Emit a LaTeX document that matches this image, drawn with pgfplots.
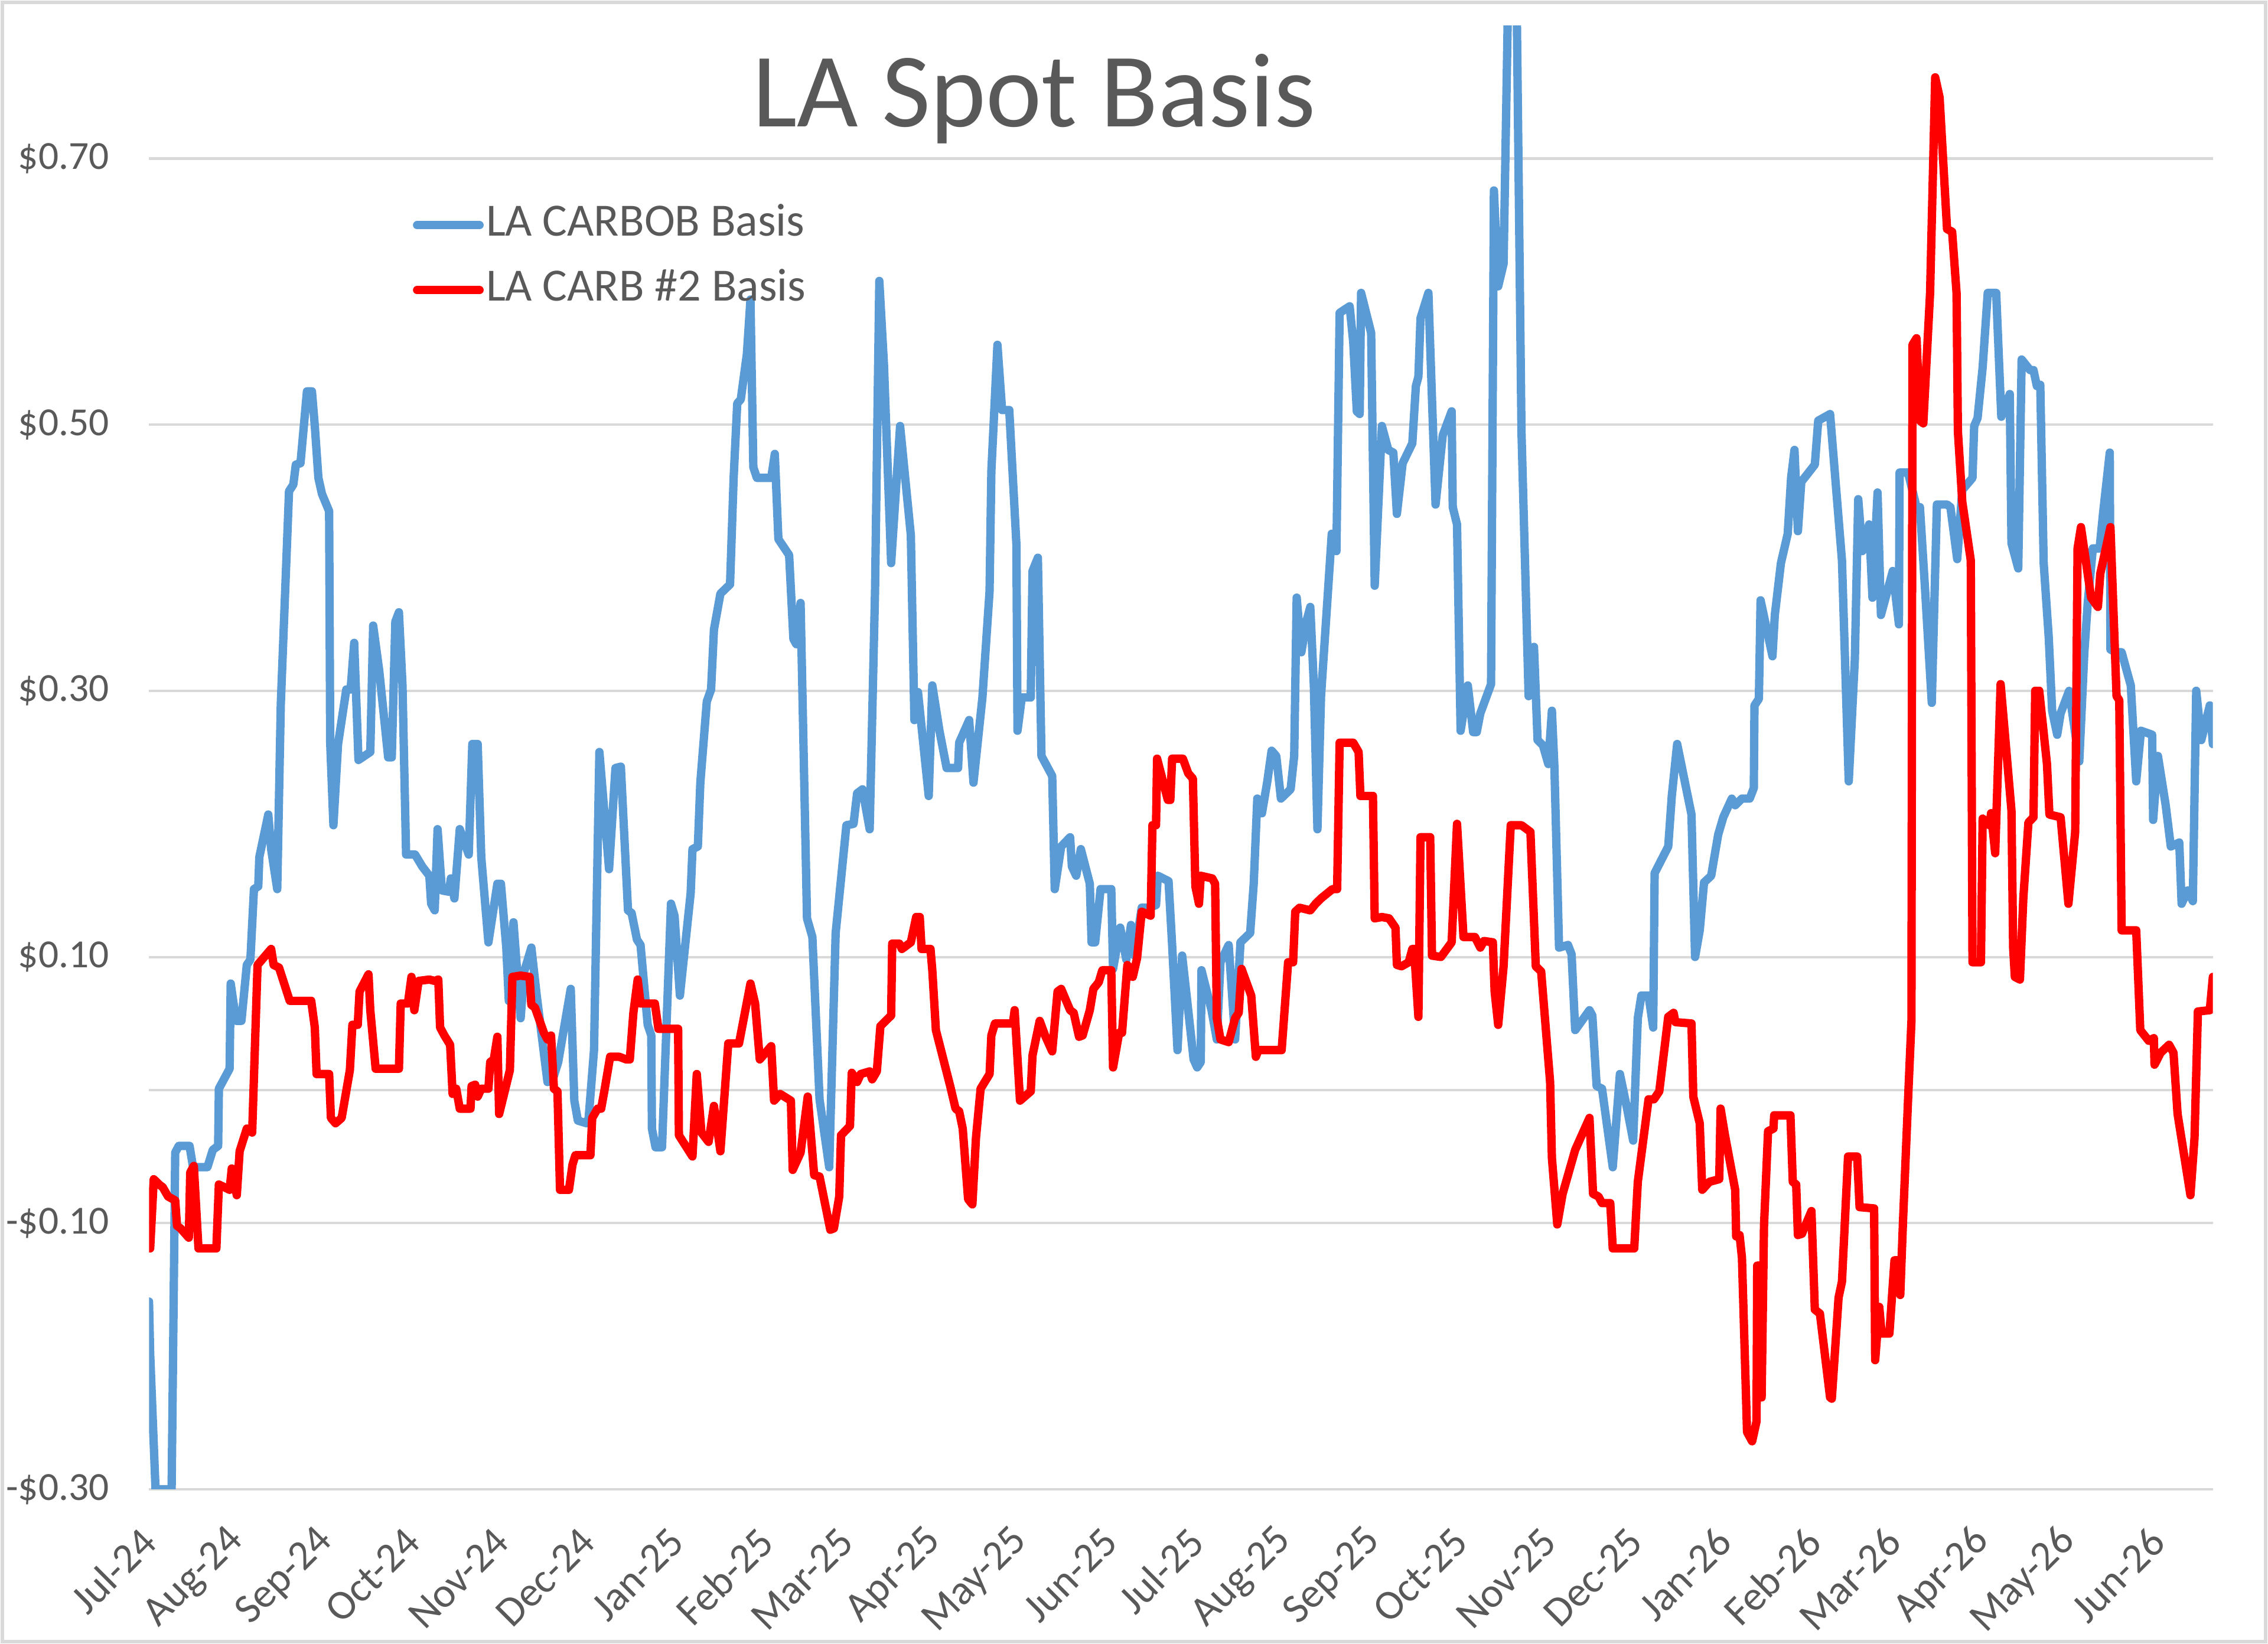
\documentclass[border=0pt]{standalone}
\usepackage{fontspec}
\setmainfont{Carlito}
\usepackage{pgfplots}
\pgfplotsset{compat=1.18}
\usepackage{pgfplotstable}

\definecolor{carbob}{HTML}{5B9BD5}
\definecolor{carbtwo}{HTML}{FF0000}
\definecolor{gridgray}{HTML}{D9D9D9}
\definecolor{txtgray}{HTML}{595959}

% day = days since 1 Jul 2024, basis in $/gal
\pgfplotstableread{
day basis
0 -0.159
0.40 -0.198
2.27 -0.30
7.88 -0.30
9.13 -0.047
10.37 -0.042
14.12 -0.042
15.36 -0.058
20.35 -0.058
22.22 -0.045
24.09 -0.042
24.34 0.001
28.08 0.016
28.46 0.080
30.33 0.052
32.2 0.052
34.07 0.094
35.32 0.098
36.56 0.151
38.06 0.153
38.43 0.175
41.55 0.207
42.55 0.181
44.67 0.151
45.91 0.290
48.78 0.450
50.28 0.455
51.15 0.470
52.77 0.471
55.02 0.525
56.76 0.525
57.76 0.499
59.01 0.460
60.25 0.448
62.75 0.435
63.12 0.261
64.24 0.199
65.86 0.260
68.73 0.301
70.23 0.301
71.48 0.336
72.97 0.248
77.09 0.254
78.09 0.349
80.21 0.315
83.32 0.250
84.57 0.250
85.82 0.352
87.06 0.359
88.31 0.304
89.56 0.177
92.68 0.177
95.18 0.168
97.66 0.161
98.29 0.140
99.53 0.135
100.53 0.196
102.03 0.150
104.52 0.149
105.15 0.159
106.39 0.144
108.26 0.196
111.38 0.177
112.63 0.260
114.5 0.260
115.75 0.175
118.24 0.111
121.36 0.155
122.6 0.155
124.47 0.107
125.35 0.067
126.97 0.126
129.46 0.054
130.71 0.089
133.2 0.107
135.07 0.071
138.82 0.006
140.68 0.008
142.55 0.021
146.92 0.076
148.17 -0.008
149.41 -0.023
152.53 -0.025
153.16 -0.021
155.03 0.030
156.9 0.254
160.27 0.166
162.5 0.242
164.38 0.243
166.87 0.135
168.12 0.133
169.99 0.113
171.24 0.109
173.73 0.049
174.98 0.041
175.2 -0.029
176.47 -0.043
178.72 -0.043
181.84 0.140
183.08 0.131
184.95 0.071
188.7 0.148
189.33 0.181
191.2 0.183
192.07 0.231
194.32 0.292
195.81 0.301
196.81 0.346
199.06 0.373
202.42 0.380
203.67 0.460
204.92 0.516
206.16 0.519
208.28 0.553
209.53 0.594
210.53 0.468
211.78 0.460
216.76 0.460
218.01 0.478
219.26 0.414
223.0 0.402
224.49 0.339
225.49 0.335
226.99 0.366
229.23 0.129
231.1 0.115
233.6 -0.007
236.96 -0.058
239.21 0.118
242.95 0.199
245.44 0.200
246.69 0.223
248.56 0.226
251.06 0.196
252.93 0.375
254.42 0.608
256.04 0.545
258.54 0.396
261.66 0.499
265.4 0.417
266.64 0.278
267.89 0.299
271.63 0.221
272.88 0.304
275.37 0.270
277.87 0.242
281.86 0.242
282.23 0.261
285.72 0.278
287.22 0.231
290.34 0.295
292.83 0.375
293.45 0.465
295.57 0.560
297.19 0.511
299.69 0.511
302.18 0.410
302.56 0.270
304.05 0.295
307.17 0.295
307.79 0.390
309.66 0.400
310.91 0.251
314.65 0.236
315.53 0.151
317.77 0.183
320.89 0.190
321.51 0.168
323.01 0.161
324.63 0.181
327.75 0.155
328.37 0.111
329.62 0.111
331.49 0.151
335.23 0.151
335.85 0.091
338.35 0.122
340.47 0.098
342.09 0.124
343.33 0.101
345.83 0.137
348.32 0.137
350.82 0.139
351.44 0.161
355.18 0.157
356.43 0.109
358.3 0.030
359.92 0.101
361.42 0.072
363.91 0.023
365.16 0.017
366.4 0.021
366.65 0.090
370.15 0.060
372.0 0.038
373.26 0.096
376.13 0.109
378.37 0.038
380.24 0.111
383.61 0.118
384.85 0.155
386.1 0.219
387.72 0.208
389.59 0.232
391.09 0.255
392.71 0.251
394.33 0.219
397.7 0.226
398.95 0.251
399.82 0.370
401.44 0.329
403.31 0.353
404.56 0.363
405.8 0.304
407.05 0.196
408.3 0.296
410.79 0.377
412.04 0.418
413.66 0.405
414.78 0.584
418.27 0.589
419.52 0.562
420.77 0.510
421.77 0.508
422.26 0.599
425.76 0.569
427.0 0.379
429.5 0.499
431.74 0.481
433.49 0.479
434.73 0.433
436.73 0.471
440.1 0.486
441.34 0.529
442.22 0.536
442.96 0.580
445.71 0.599
448.2 0.440
450.7 0.492
453.81 0.510
454.19 0.438
455.68 0.425
456.93 0.270
459.43 0.304
461.3 0.269
462.54 0.269
463.79 0.283
467.53 0.305
468.53 0.676
470.02 0.604
471.9 0.621
475.26 1.05
478.13 0.495
480.62 0.296
482.49 0.333
483.74 0.263
485.61 0.259
487.48 0.245
488.73 0.285
489.6 0.243
491.22 0.107
494.34 0.109
495.59 0.102
496.84 0.045
501.82 0.060
502.82 0.056
504.32 0.003
506.19 0.001
509.93 -0.058
512.42 0.012
514.92 -0.014
517.04 -0.038
518.66 0.054
519.9 0.071
522.4 0.071
524.02 0.047
524.52 0.163
529.26 0.183
530.5 0.221
532.37 0.260
537.36 0.207
538.61 0.100
540.23 0.120
541.73 0.156
544.22 0.161
545.47 0.177
546.67 0.192
548.44 0.205
551.4 0.219
552.58 0.214
554.94 0.219
557.65 0.219
559.07 0.227
559.3 0.289
560.84 0.294
561.43 0.368
565.57 0.326
566.39 0.357
568.52 0.396
570.88 0.418
572.06 0.460
573.24 0.481
574.43 0.420
575.61 0.457
580.33 0.470
581.51 0.503
585.64 0.508
589.78 0.398
592.14 0.232
594.27 0.324
595.45 0.444
596.86 0.405
599.23 0.425
600.41 0.370
602.18 0.449
603.36 0.357
607.49 0.390
609.62 0.350
609.86 0.464
612.81 0.464
615.76 0.438
616.94 0.438
618.71 0.377
621.07 0.291
622.85 0.440
626.39 0.440
627.57 0.438
629.93 0.399
631.7 0.451
635.25 0.460
635.84 0.499
637.02 0.505
638.79 0.543
640.56 0.599
643.51 0.599
645.29 0.506
648.24 0.523
648.83 0.411
651.19 0.392
652.37 0.549
655.32 0.541
656.5 0.541
657.69 0.529
658.87 0.530
660.05 0.396
661.82 0.340
663.0 0.285
664.77 0.267
665.95 0.283
668.91 0.300
672.45 0.247
674.22 0.329
675.4 0.366
677.17 0.407
679.53 0.407
680.72 0.433
683.08 0.479
683.31 0.331
685.44 0.329
687.21 0.329
690.4 0.304
692.29 0.232
693.94 0.270
697.84 0.267
698.19 0.203
699.85 0.251
702.56 0.214
704.34 0.183
707.29 0.186
708.11 0.140
710.24 0.150
712.01 0.142
713.19 0.300
714.96 0.263
717.92 0.289
719 0.260
}\carbobtable

\pgfplotstableread{
day basis
0 -0.084
0.4 -0.119
1.65 -0.067
3.52 -0.071
4.76 -0.073
6.63 -0.080
9.13 -0.083
9.75 -0.102
11.0 -0.104
13.87 -0.111
14.36 -0.062
15.61 -0.057
17.23 -0.119
23.47 -0.119
24.34 -0.071
28.08 -0.075
28.83 -0.059
30.58 -0.079
31.57 -0.046
34.07 -0.029
35.94 -0.032
37.81 0.094
42.55 0.106
43.42 0.094
45.29 0.092
49.03 0.067
56.51 0.067
57.76 0.047
58.38 0.012
62.75 0.012
63.37 -0.021
64.99 -0.025
67.11 -0.021
69.98 0.015
70.85 0.049
72.72 0.049
73.35 0.074
76.47 0.087
77.09 0.060
78.96 0.016
87.06 0.016
87.69 0.065
90.18 0.065
91.43 0.085
92.43 0.060
93.92 0.082
97.66 0.083
99.53 0.082
100.78 0.083
101.41 0.047
102.9 0.041
104.9 0.034
105.77 -0.003
107.02 0.001
108.26 -0.014
112.0 -0.014
112.38 0.003
113.63 0.004
114.5 -0.005
115.75 0.001
118.24 0.001
118.86 0.021
120.11 0.023
121.36 0.040
121.98 -0.018
123.23 -0.007
125.72 0.015
126.6 0.085
129.46 0.086
132.58 0.085
133.2 0.064
134.45 0.062
137.57 0.043
138.82 0.038
140.06 0.041
141.06 0.001
142.3 -0.001
143.18 -0.075
146.3 -0.075
147.54 -0.056
148.54 -0.049
153.78 -0.049
154.4 -0.021
156.27 -0.014
157.52 -0.014
158.77 0.001
160.64 0.025
163.76 0.025
166.25 0.023
167.5 0.023
168.74 0.058
170.24 0.083
171.24 0.065
176.22 0.065
177.47 0.046
184.33 0.046
184.6 -0.034
189.33 -0.050
190.83 0.012
192.45 -0.032
194.94 -0.039
196.81 -0.012
199.06 -0.046
201.8 0.035
205.54 0.035
209.53 0.080
211.15 0.065
212.77 0.023
216.76 0.033
217.76 -0.008
219.88 -0.003
223.62 -0.008
224.25 -0.060
226.99 -0.047
229.48 -0.005
231.73 -0.064
233.6 -0.065
237.34 -0.105
238.59 -0.104
240.46 -0.080
241.08 -0.034
244.2 -0.027
244.82 0.013
246.69 0.006
247.94 0.012
251.06 0.014
251.93 0.008
253.55 0.014
254.8 0.048
258.54 0.056
258.91 0.110
261.41 0.110
262.28 0.106
265.4 0.111
267.27 0.130
268.51 0.130
269.14 0.106
272.25 0.106
272.88 0.090
274.13 0.045
279.11 0.003
280.98 -0.014
282.23 -0.016
283.48 -0.029
285.35 -0.082
286.84 -0.086
288.09 -0.036
289.71 0.001
292.83 0.012
293.45 0.041
294.7 0.050
300.94 0.050
301.56 0.060
303.43 -0.008
307.17 -0.001
307.79 0.026
310.29 0.052
312.16 0.041
314.65 0.029
316.52 0.074
317.77 0.076
320.89 0.060
322.13 0.058
324.0 0.040
325.25 0.041
327.75 0.060
328.99 0.076
330.86 0.081
332.11 0.090
335.23 0.090
335.85 0.017
337.97 0.043
338.97 0.043
340.84 0.094
342.71 0.085
344.21 0.099
345.83 0.134
348.95 0.131
349.57 0.199
350.82 0.199
351.19 0.249
354.93 0.218
355.8 0.218
356.43 0.249
360.17 0.249
362.04 0.238
363.66 0.234
364.53 0.153
365.78 0.140
366.4 0.161
370.4 0.159
371.4 0.155
372.0 0.054
373.26 0.038
376.13 0.036
378.37 0.054
379.62 0.058
380.61 0.091
383.98 0.071
385.6 0.025
386.48 0.030
394.58 0.030
396.83 0.096
398.57 0.096
399.32 0.134
400.82 0.137
404.56 0.135
406.43 0.140
408.3 0.144
412.29 0.151
413.91 0.151
414.78 0.261
419.52 0.261
421.39 0.254
422.02 0.221
426.38 0.221
427.0 0.129
429.5 0.130
431.99 0.129
434.24 0.122
434.73 0.094
436.36 0.093
438.85 0.096
440.1 0.106
440.72 0.106
442.22 0.055
442.96 0.190
446.33 0.190
446.96 0.101
450.07 0.100
453.81 0.111
455.68 0.200
457.93 0.115
461.92 0.115
463.79 0.107
465.04 0.112
468.15 0.111
468.78 0.074
470.02 0.049
471.9 0.093
474.39 0.199
478.13 0.199
481.25 0.194
483.12 0.093
484.99 0.089
488.11 0.006
488.73 -0.051
490.6 -0.101
492.47 -0.078
496.84 -0.045
501.82 -0.021
503.07 -0.078
504.94 -0.080
506.19 -0.085
509.06 -0.085
509.93 -0.119
517.41 -0.119
518.66 -0.069
522.4 -0.007
524.27 -0.007
526.14 -0.001
529.26 0.055
531.13 0.058
531.75 0.051
537.36 0.050
537.99 -0.005
540.23 -0.025
541.1 -0.075
543.6 -0.069
547.03 -0.067
547.5 -0.014
549.03 -0.034
552.58 -0.075
552.93 -0.110
554.11 -0.109
554.94 -0.126
556.71 -0.257
558.48 -0.264
560.02 -0.249
560.25 -0.132
561.2 -0.132
561.79 -0.231
562.62 -0.102
564.03 -0.031
565.92 -0.029
566.16 -0.019
571.83 -0.019
572.65 -0.069
573.83 -0.071
574.43 -0.109
575.84 -0.108
579.15 -0.091
580.33 -0.165
582.1 -0.168
585.64 -0.231
586.24 -0.232
588.6 -0.156
589.78 -0.144
591.9 -0.050
595.09 -0.050
595.92 -0.088
600.98 -0.089
601.35 -0.203
602.77 -0.163
603.6 -0.183
606.31 -0.183
608.08 -0.128
609.26 -0.128
610.09 -0.154
611.04 -0.099
612.81 -0.007
613.99 0.052
614.34 0.560
615.76 0.565
616.94 0.503
618.12 0.501
620.48 0.599
622.26 0.761
623.79 0.746
626.39 0.647
628.16 0.645
629.7 0.599
630.17 0.495
631.7 0.442
634.66 0.398
635.25 0.096
638.2 0.096
638.79 0.204
641.15 0.199
641.74 0.208
643.16 0.178
645.05 0.305
648.83 0.210
649.42 0.107
650.01 0.085
651.78 0.083
652.96 0.144
654.73 0.201
656.5 0.205
657.1 0.300
658.5 0.300
661.2 0.245
662.05 0.207
665.95 0.205
668.67 0.140
671.03 0.194
671.86 0.407
673.04 0.423
676.58 0.370
678.94 0.363
679.77 0.388
683.31 0.423
685.44 0.296
686.38 0.293
687.21 0.120
692.29 0.120
693.71 0.045
696.66 0.037
698.43 0.039
698.67 0.019
700.79 0.028
703.74 0.034
705.28 0.028
706.7 -0.018
711.18 -0.079
712.6 -0.036
713.78 0.059
717.92 0.060
719 0.085
}\carbtable

\begin{document}
\begin{tikzpicture}
\path[use as bounding box] (0,0) rectangle (20cm,14.5cm);
\draw[gridgray, line width=0.9pt] (0.02cm,0.02cm) rectangle (19.98cm,14.48cm);
\begin{axis}[
  at={(1.314cm,1.365cm)}, anchor=south west,
  width=18.2cm, height=12.91cm, scale only axis,
  xmin=0, xmax=719, ymin=-0.30, ymax=0.80,
  axis line style={draw=none},
  major tick length=0pt,
  ytick={-0.3,-0.1,0.1,0.3,0.5,0.7},
  yticklabels={-\$0.30,-\$0.10,\$0.10,\$0.30,\$0.50,\$0.70},
  ymajorgrids,
  grid style={gridgray, line width=0.6pt},
  extra y ticks={0},
  extra y tick labels={},
  extra y tick style={grid=major, major grid style={gridgray, line width=0.6pt}},
  xtick={0,31,62,92,123,153,184,215,243,274,304,335,365,396,427,457,488,518,549,580,608,639,669,700},
  xticklabels={Jul-24,Aug-24,Sep-24,Oct-24,Nov-24,Dec-24,Jan-25,Feb-25,Mar-25,Apr-25,May-25,Jun-25,Jul-25,Aug-25,Sep-25,Oct-25,Nov-25,Dec-25,Jan-26,Feb-26,Mar-26,Apr-26,May-26,Jun-26},
  xticklabel style={font=\fontsize{10.5}{12.5}\selectfont, text=txtgray, yshift=-0.40cm, rotate=45, anchor=east, inner sep=0pt},
  yticklabel style={font=\fontsize{10}{12}\selectfont, text=txtgray, anchor=east, inner sep=0pt, xshift=-0.345cm},
  legend style={at={(axis description cs:0.1275,0.880)}, anchor=north west, draw=none, fill=none,
    font=\fontsize{11.6}{14}\selectfont, text=txtgray, row sep=4.6pt, inner sep=0pt,
    nodes={inner sep=0.6pt, text height=8pt, text depth=2.5pt}},
  legend cell align=left,
  legend image code/.code={\draw[#1] (0cm,0cm) -- (0.55cm,0cm);},
  every axis plot/.append style={line join=round, line cap=round},
]
\addplot[carbob, line width=2.1pt] table[x=day, y=basis] {\carbobtable};
\addlegendentry{LA CARBOB Basis}
\addplot[carbtwo, line width=2.1pt] table[x=day, y=basis] {\carbtable};
\addlegendentry{LA CARB \#2 Basis}
\end{axis}
\node[font=\fontsize{26.5}{30}\selectfont, text=txtgray, anchor=base] at (9.12cm,13.38cm) {LA Spot Basis};
\end{tikzpicture}
\end{document}
